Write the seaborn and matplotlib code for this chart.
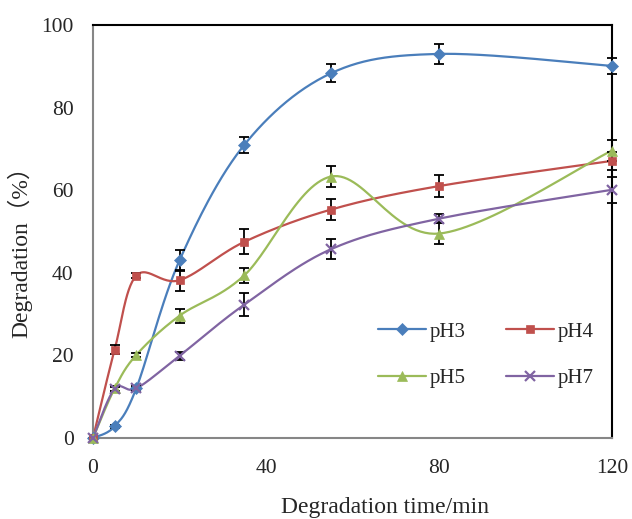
import numpy as np
import pandas as pd
import matplotlib
matplotlib.use("Agg")
import matplotlib.pyplot as plt
import seaborn as sns
from matplotlib.lines import Line2D

time = [0, 5, 10, 20, 35, 55, 80, 120]
ph3 = [0, 2.8, 12.0, 43.0, 71.0, 88.3, 93.0, 90.1]
ph3_err = [0, 0.4, 0.4, 2.5, 2.0, 2.2, 2.4, 1.9]
ph4 = [0, 21.4, 39.3, 38.2, 47.5, 55.3, 61.0, 67.1]
ph4_err = [0, 1.0, 0.6, 2.5, 3.0, 2.6, 2.7, 2.1]
ph5 = [0, 12.0, 20.1, 29.6, 39.4, 63.3, 49.5, 69.6]
ph5_err = [0, 0.6, 0.6, 1.7, 1.8, 2.5, 2.5, 2.6]
ph7 = [0, 11.9, 12.0, 19.9, 32.3, 45.7, 53.1, 60.1]
ph7_err = [0, 0.5, 0.5, 1.0, 2.8, 2.4, 1.1, 3.2]

names = ["pH3", "pH4", "pH5", "pH7"]
values = [ph3, ph4, ph5, ph7]
errors = [ph3_err, ph4_err, ph5_err, ph7_err]
colors = ["#4A7EBB", "#C0504D", "#9BBB59", "#8064A2"]
markers = ["D", "s", "^", "x"]
msizes = [6.5, 5.5, 7, 7]


def smooth(x, y, sx=4.325, sy=4.13, n=30):
    # Excel-style bezier smoothing done in screen-like units
    px = np.array(x, float) * sx
    py = np.array(y, float) * sy
    P = np.column_stack([px, py])
    P = np.vstack([P[0], P, P[-1]])
    out = []
    t = np.linspace(0, 1, n)[:, None]
    for i in range(1, len(P) - 2):
        p0, p1, p2, p3 = P[i - 1], P[i], P[i + 1], P[i + 2]
        c1 = p1 + (p2 - p0) / 6
        c2 = p2 - (p3 - p1) / 6
        seg = ((1 - t) ** 3) * p1 + 3 * ((1 - t) ** 2) * t * c1 + 3 * (1 - t) * t ** 2 * c2 + t ** 3 * p2
        out.append(seg if i == 1 else seg[1:])
    out = np.vstack(out)
    return out[:, 0] / sx, out[:, 1] / sy


sns.set_style("white")
plt.rcParams["font.family"] = ["Liberation Serif", "Noto Sans CJK SC"]

fig = plt.figure(figsize=(6.32, 5.19), dpi=100)
ax = fig.add_axes([93 / 632, 1 - 438 / 519, 519 / 632, 413 / 519])

handles = {}
for name, vals, err, c, m, ms in zip(names, values, errors, colors, markers, msizes):
    sx, sy = smooth(time, vals)
    curve = pd.DataFrame({"t": sx, "v": sy})
    sns.lineplot(data=curve, x="t", y="v", color=c, linewidth=1.6, sort=False,
                 estimator=None, ax=ax, zorder=2)
    ax.errorbar(time, vals, yerr=err, fmt="none", ecolor="black", elinewidth=1.3,
                capsize=3.5, capthick=1.3, zorder=3, clip_on=False)
    mew = 1.6 if m == "x" else 0.5
    ax.plot(time, vals, linestyle="none", marker=m, markersize=ms, color=c,
            markeredgecolor=c, markeredgewidth=mew, zorder=4, clip_on=False)
    handles[name] = Line2D([0], [0], color=c, linewidth=1.6, marker=m, markersize=ms,
                           markeredgecolor=c, markeredgewidth=mew)

ax.set_xlim(0, 120)
ax.set_ylim(0, 100)
ax.set_xticks([0, 40, 80, 120])
ax.set_yticks([0, 20, 40, 60, 80, 100])
ax.tick_params(axis="both", direction="in", length=5, width=1.2, color="#868686",
               labelsize=15.5)
ax.tick_params(axis="y", pad=14)
ax.tick_params(axis="x", pad=15)

for s in ["left", "bottom"]:
    ax.spines[s].set_color("#868686")
    ax.spines[s].set_linewidth(1.5)
for s in ["top", "right"]:
    ax.spines[s].set_color("black")
    ax.spines[s].set_linewidth(1.5)

ax.set_xlabel("Degradation time/min", fontsize=17)
ax.set_ylabel("Degradation（%）", fontsize=17)
ax.xaxis.set_label_coords((385 - 93) / 519, -0.143)
ax.yaxis.set_label_coords(-0.116, 0.465)

order = ["pH3", "pH5", "pH4", "pH7"]
ax.legend([handles[k] for k in order], order, ncol=2, frameon=False, fontsize=15,
          loc="upper left", bbox_to_anchor=((378 - 93) / 519, (438 - 322) / 413),
          borderpad=0, handlelength=2.3, handletextpad=0.2, labelspacing=1.3,
          columnspacing=1.9, borderaxespad=0)

fig.savefig("out.png", dpi=100)
